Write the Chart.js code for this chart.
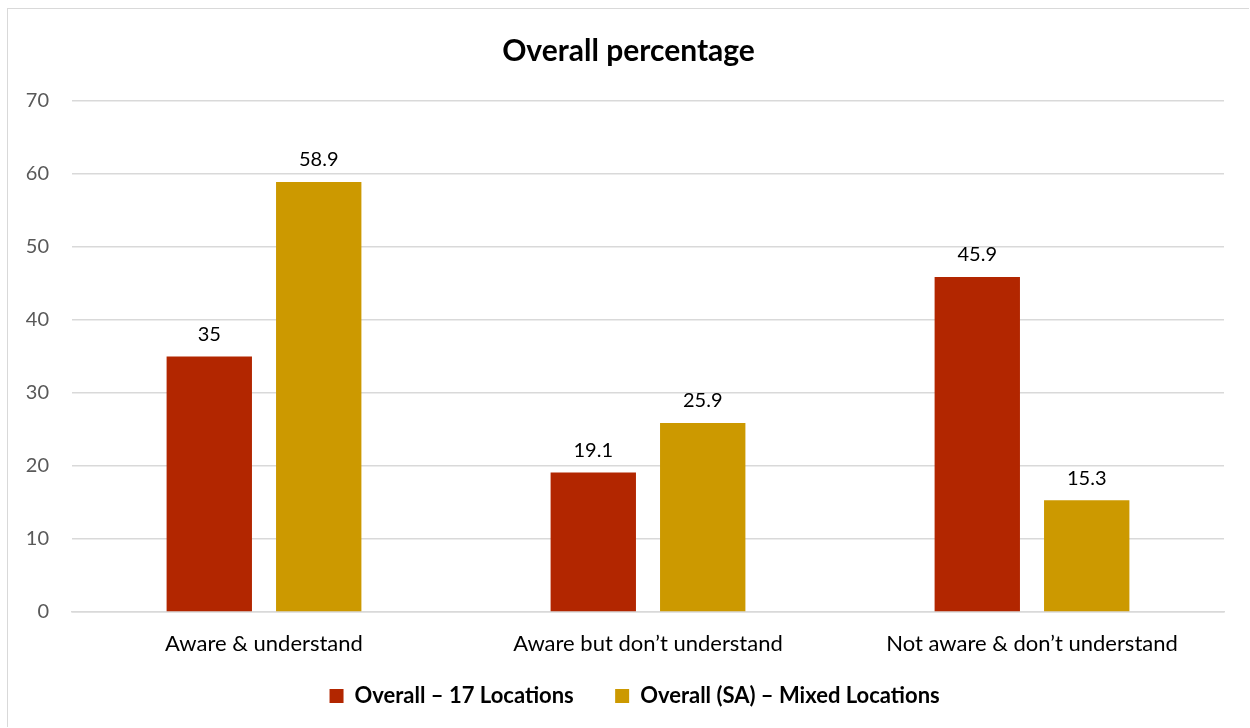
<!DOCTYPE html>
<html><head><meta charset="utf-8">
<script src="https://cdn.jsdelivr.net/npm/chart.js@4"></script>
<style>
html,body{margin:0;padding:0;background:#fff;}
#wrap{position:absolute;left:7px;top:8px;width:1241px;height:718px;border:1px solid #d9d9d9;border-right:none;border-bottom:none;}
canvas{display:block;}
</style></head><body>
<div id="wrap"><canvas id="c"></canvas></div>
<script>
const categories = ["Aware & understand", "Aware but don\u2019t understand", "Not aware & don\u2019t understand"];
const series17 = [35, 19.1, 45.9];
const seriesSA = [58.9, 25.9, 15.3];
const seriesNames = ["Overall \u2013 17 Locations", "Overall (SA) \u2013 Mixed Locations"];
const FONT = "Lato, 'Open Sans', sans-serif";

const labelPlugin = {
  id: 'barLabels',
  afterDatasetsDraw(chart) {
    const ctx = chart.ctx;
    ctx.save();
    ctx.font = "20px " + FONT;
    ctx.fillStyle = "#000";
    ctx.textAlign = "center";
    ctx.textBaseline = "bottom";
    chart.data.datasets.forEach((ds, i) => {
      chart.getDatasetMeta(i).data.forEach((bar, j) => {
        ctx.fillText(String(ds.data[j]), bar.x, bar.y - 12);
      });
    });
    ctx.restore();
  }
};

new Chart(document.getElementById('c'), {
  type: 'bar',
  data: {
    labels: categories,
    datasets: [
      {label: seriesNames[0], data: series17, backgroundColor: '#B22600'},
      {label: seriesNames[1], data: seriesSA, backgroundColor: '#CC9900'}
    ]
  },
  options: {
    responsive: true,
    maintainAspectRatio: false,
    animation: false,
    categoryPercentage: 0.57,
    barPercentage: 0.78,
    layout: {padding: {left: 0, right: 0, top: 10, bottom: 10}},
    plugins: {
      title: {display: true, text: 'Overall percentage', color: '#000',
        font: {family: FONT, size: 30, weight: 'bold'}, padding: {top: 14, bottom: 32}},
      legend: {position: 'bottom', fullSize: false, labels: {color: '#000', boxWidth: 14, boxHeight: 14, padding: 20,
        font: {family: FONT, size: 22, weight: 'bold'},
        generateLabels(chart) {
          const items = Chart.defaults.plugins.legend.labels.generateLabels(chart);
          items[0].text = items[0].text + '\u00a0\u00a0\u00a0\u00a0';
          items[1].text = items[1].text + '\u00a0\u00a0\u00a0\u00a0\u00a0';
          return items;
        }}},
      tooltip: {enabled: false}
    },
    scales: {
      y: {min: 0, max: 70, afterFit(a){ a.width = 64; },
        ticks: {stepSize: 10, color: '#595959', padding: 23, font: {family: FONT, size: 20}},
        grid: {color: '#d9d9d9', lineWidth: 1.5, drawTicks: false}, border: {display: false}},
      yR: {position: 'right', afterFit(a){ a.width = 25; },
        ticks: {display: false}, grid: {display: false}, border: {display: false}},
      x: {afterFit(a){ a.height = 53; },
        ticks: {color: '#000', padding: 11, font: {family: FONT, size: 22}},
        grid: {display: false}, border: {color: '#d9d9d9', width: 1.5}}
    }
  },
  plugins: [labelPlugin]
});
</script>
</body></html>
